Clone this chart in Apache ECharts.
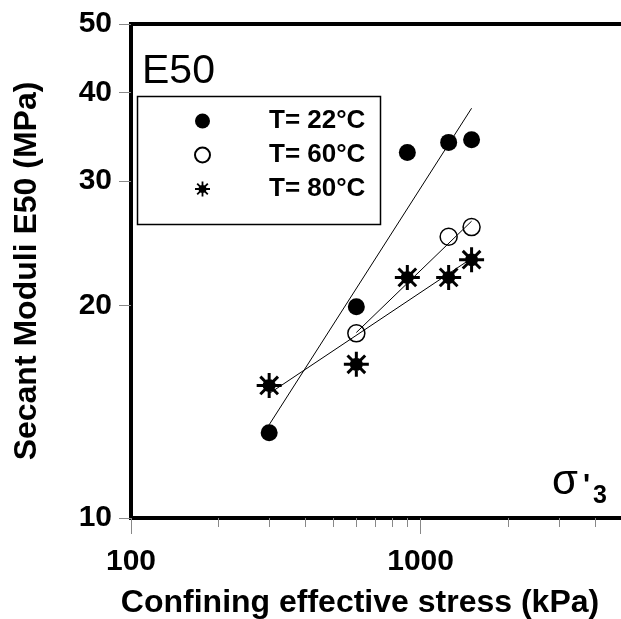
<!DOCTYPE html>
<html>
<head>
<meta charset="utf-8">
<script src="https://cdn.jsdelivr.net/npm/echarts@6/dist/echarts.min.js"></script>
<style>
  html, body { margin: 0; padding: 0; background: #fff; }
  #chart-container { width: 621px; height: 619px; }
</style>
</head>
<body>
<div id="chart-container"></div>
<script>
// confining effective stress (kPa) and secant moduli E50 (MPa)
var stress = [300, 600, 900, 1250, 1500];
var e50T22 = [13.2, 19.9, 32.9, 34.0, 34.3];
var stressT60 = [600, 1250, 1500];
var e50T60 = [18.25, 25.0, 25.8];
var e50T80 = [15.4, 16.5, 21.9, 21.9, 23.2];

// fitted lines, ends
var fitStress22 = [300, 1500];
var fitE22 = [13.55, 38.0];
var fitStress60 = [600, 1500];
var fitE60 = [18.3, 26.3];
var fitStress80 = [300, 1500];
var fitE80 = [15.0, 23.3];

var names = ["T= 22°C", "T= 60°C", "T= 80°C"];
var xMajorTicks = [100, 1000];
var xMinorTicks = [200, 300, 400, 500, 600, 700, 800, 900, 2000, 3000, 4000, 5000];
var yTicks = [10, 20, 30, 40, 50];

var FONT = "'Liberation Sans', Arial, Helvetica, sans-serif";
// asterisk with a filled centre
var starPath = "path://M0 44L100 44L100 56L0 56Z M44 0L56 0L56 100L44 100Z " +
  "M18.88 10.40L89.60 81.12L81.12 89.60L10.40 18.88Z " +
  "M89.60 18.88L18.88 89.60L10.40 81.12L81.12 10.40Z " +
  "M24 50A26 26 0 1 1 76 50A26 26 0 1 1 24 50Z";

function pairs(xs, ys) {
  var out = [];
  for (var i = 0; i < xs.length; i++) out.push([xs[i], ys[i]]);
  return out;
}

var dom = document.getElementById("chart-container");
var myChart = echarts.init(dom, null, { renderer: "canvas" });

var option = {
  animation: false,
  grid: {
    left: 131, top: 24, width: 492, height: 494,
    show: true, borderColor: "#000", borderWidth: 4,
    outerBoundsMode: "none"
  },
  legend: {
    orient: "vertical",
    left: 194, top: 106,
    padding: 0,
    itemWidth: 15, itemHeight: 15,
    itemGap: 4,
    data: names,
    textStyle: {
      fontFamily: FONT, fontWeight: "bold", fontSize: 26, color: "#000",
      lineHeight: 30, padding: [0, 0, 0, 54]
    }
  },
  xAxis: [
    {
      type: "log", min: 100, max: 5000,
      name: "Confining effective stress (kPa)",
      nameLocation: "middle", nameGap: 69,
      nameTextStyle: { fontFamily: FONT, fontWeight: "bold", fontSize: 32, color: "#000", padding: [0, 34, 0, 0] },
      axisLine: { show: false, onZero: false },
      axisTick: { show: true, customValues: xMajorTicks, length: 16, lineStyle: { color: "#888", width: 1 } },
      axisLabel: {
        customValues: xMajorTicks, margin: 29,
        fontFamily: FONT, fontWeight: "bold", fontSize: 30, color: "#000",
        formatter: function (v) { return String(Math.round(v)); }
      },
      splitLine: { show: false }
    },
    {
      type: "log", min: 100, max: 5000, position: "bottom",
      axisLine: { show: false, onZero: false },
      axisTick: { show: true, customValues: xMinorTicks, length: 9, lineStyle: { color: "#888", width: 1 } },
      axisLabel: { show: false },
      splitLine: { show: false }
    }
  ],
  yAxis: {
    type: "log", min: 10, max: 50,
    name: "Secant Moduli E50 (MPa)",
    nameLocation: "middle", nameGap: 88,
    nameTextStyle: { fontFamily: FONT, fontWeight: "bold", fontSize: 32, color: "#000" },
    axisLine: { show: false, onZero: false },
    axisTick: { show: true, customValues: yTicks, length: 12, lineStyle: { color: "#888", width: 1 } },
    axisLabel: {
      customValues: yTicks, margin: 19,
      fontFamily: FONT, fontWeight: "bold", fontSize: 30, color: "#000",
      formatter: function (v) { return String(Math.round(v)); }
    },
    splitLine: { show: false }
  },
  graphic: [
    {
      type: "rect", z: 1,
      shape: { x: 137.5, y: 96.5, width: 243, height: 128 },
      style: { fill: "#fff", stroke: "#000", lineWidth: 1.5 }
    },
    {
      type: "text", left: 142, top: 51, z: 10,
      style: { text: "E50", font: "41px " + FONT, fill: "#000", verticalAlign: "middle" }
    },
    {
      type: "text", x: 552, y: 482, z: 10,
      style: { text: "σ", font: "42px " + FONT, fill: "#000", verticalAlign: "middle" }
    },
    {
      type: "text", x: 583, y: 486, z: 10,
      style: { text: "'", font: "bold 30px " + FONT, fill: "#000", verticalAlign: "middle" }
    },
    {
      type: "text", x: 593, y: 496, z: 10,
      style: { text: "3", font: "bold 25px " + FONT, fill: "#000", verticalAlign: "middle" }
    }
  ],
  series: [
    {
      name: names[0], type: "scatter", z: 2,
      symbol: "circle", symbolSize: 17,
      itemStyle: { color: "#000", opacity: 1 },
      data: pairs(stress, e50T22)
    },
    {
      name: names[1], type: "scatter", z: 2,
      symbol: "circle", symbolSize: 17,
      itemStyle: { color: "#fff", borderColor: "#000", borderWidth: 1.5, opacity: 1 },
      data: pairs(stressT60, e50T60)
    },
    {
      name: names[2], type: "scatter", z: 2,
      symbol: starPath, symbolSize: 25,
      itemStyle: { color: "#000", opacity: 1 },
      data: pairs(stress, e50T80)
    },
    {
      type: "line", z: 3, symbol: "none", silent: true,
      lineStyle: { color: "#000", width: 1 },
      data: pairs(fitStress22, fitE22)
    },
    {
      type: "line", z: 3, symbol: "none", silent: true,
      lineStyle: { color: "#000", width: 1 },
      data: pairs(fitStress60, fitE60)
    },
    {
      type: "line", z: 3, symbol: "none", silent: true,
      lineStyle: { color: "#000", width: 1 },
      data: pairs(fitStress80, fitE80)
    }
  ]
};

if (option && typeof option === "object") {
  myChart.setOption(option);
}

window.addEventListener("resize", myChart.resize);
</script>
</body>
</html>
